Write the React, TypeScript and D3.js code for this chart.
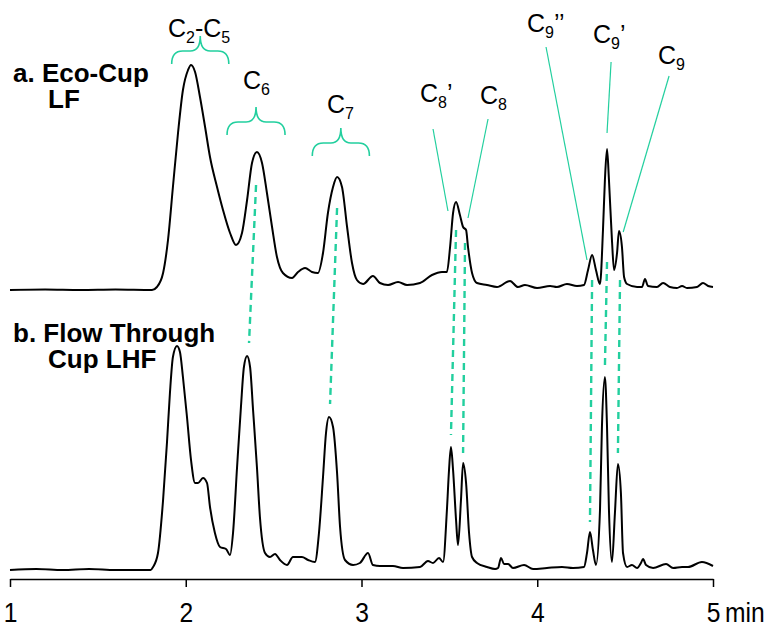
import React, { useRef, useEffect } from 'react';
import * as d3 from 'd3';

// retention time (min) and detector signal (arbitrary units)
const timesA = [1.0, 1.2, 1.4, 1.6, 1.808, 1.836, 1.871, 1.899, 1.927, 1.956, 1.984, 2.013, 2.03, 2.053, 2.081, 2.11, 2.138, 2.178, 2.212, 2.252, 2.286, 2.32, 2.349, 2.377, 2.405, 2.434, 2.462, 2.491, 2.519, 2.553, 2.605, 2.639, 2.679, 2.718, 2.752, 2.781, 2.809, 2.838, 2.861, 2.889, 2.918, 2.946, 2.974, 3.009, 3.065, 3.105, 3.151, 3.208, 3.259, 3.333, 3.401, 3.458, 3.486, 3.504, 3.521, 3.538, 3.56, 3.578, 3.595, 3.606, 3.629, 3.657, 3.714, 3.771, 3.845, 3.89, 3.93, 3.999, 4.073, 4.112, 4.169, 4.226, 4.266, 4.289, 4.312, 4.334, 4.357, 4.374, 4.385, 4.397, 4.408, 4.425, 4.437, 4.454, 4.465, 4.482, 4.494, 4.511, 4.568, 4.596, 4.613, 4.63, 4.681, 4.716, 4.755, 4.795, 4.824, 4.852, 4.909, 4.943, 4.972, 5.0];
const signalA = [0, 0.5, 0, 0.5, 0, 3, 17, 50, 103, 157, 200, 220, 225, 218, 193, 163, 133, 103, 80, 57, 45, 57, 90, 127, 138, 127, 97, 63, 33, 17, 12, 18, 22, 18, 17, 37, 77, 103, 113, 103, 63, 27, 10, 6, 14, 7, 5, 8, 5, 7, 15, 18, 18, 43, 77, 88, 75, 63, 60, 43, 17, 7, 5, 3, 9, 3, 5, 2, 4, 3, 6, 4, 5, 20, 35, 20, 6, 60, 110, 141, 110, 50, 20, 37, 59, 43, 13, 6, 3, 3, 11, 4, 3, 7, 3, 2, 4, 2, 3, 7, 4, 3];

const timesB = [1.0, 1.15, 1.3, 1.45, 1.6, 1.8, 1.814, 1.842, 1.871, 1.893, 1.91, 1.927, 1.95, 1.967, 1.984, 2.007, 2.03, 2.053, 2.07, 2.098, 2.121, 2.138, 2.166, 2.195, 2.229, 2.252, 2.269, 2.292, 2.314, 2.331, 2.349, 2.366, 2.383, 2.405, 2.422, 2.451, 2.479, 2.508, 2.536, 2.576, 2.61, 2.661, 2.696, 2.735, 2.758, 2.781, 2.798, 2.815, 2.838, 2.861, 2.878, 2.906, 2.952, 2.991, 3.037, 3.065, 3.105, 3.162, 3.179, 3.236, 3.333, 3.378, 3.407, 3.441, 3.464, 3.486, 3.498, 3.509, 3.521, 3.538, 3.549, 3.566, 3.578, 3.595, 3.612, 3.629, 3.657, 3.714, 3.76, 3.777, 3.794, 3.811, 3.834, 3.862, 3.925, 3.976, 4.055, 4.141, 4.203, 4.266, 4.283, 4.3, 4.317, 4.334, 4.357, 4.368, 4.385, 4.397, 4.408, 4.425, 4.442, 4.459, 4.476, 4.488, 4.511, 4.539, 4.568, 4.59, 4.602, 4.619, 4.659, 4.733, 4.773, 4.824, 4.858, 4.937, 5.0];
const signalB = [0, 1, 0, 1, 0, 0, 3, 17, 70, 127, 177, 213, 224, 218, 193, 153, 110, 87, 87, 92, 87, 63, 37, 23, 21, 15, 37, 103, 163, 203, 214, 203, 160, 103, 53, 17, 13, 16, 10, 5, 13, 13, 10, 8, 37, 93, 137, 153, 143, 97, 43, 10, 5, 7, 17, 5, 4, 4, 4, 2, 3, 9, 7, 12, 8, 60, 100, 123, 100, 50, 25, 70, 107, 87, 37, 13, 7, 3, 1, 2, 12, 6, 6, 2, 5, 1, 2, 3, 2, 3, 17, 38, 20, 5, 60, 143, 193, 143, 60, 8, 57, 106, 77, 17, 3, 5, 2, 7, 11, 5, 2, 6, 2, 3, 3, 8, 4];

const axisTicks = [1, 2, 3, 4, 5];

// peaks joined between the traces: time in a, time in b, dash start (a units), dash end (b units)
const matchTimeA = [2.4, 2.861, 3.538, 3.589, 4.312, 4.397, 4.471];
const matchTimeB = [2.36, 2.821, 3.509, 3.578, 4.3, 4.385, 4.459];
const matchTopA = [105, 82, 60, 47, 10, 28, 10];
const matchEndB = [227, 166, 135, 117, 48, 203, 117];

// bracketed groups
const groupNames = [['C', '2', '-C', '5'], ['C', '6'], ['C', '7']];
const groupStart = [1.92, 2.235, 2.72];
const groupEnd = [2.245, 2.565, 3.045];
const groupBase = [226, 155, 134];
const groupLabelT = [1.899, 2.326, 2.804];
const groupLabelI = [253, 201, 177];

// single peaks with leader lines
const peakNames = [['C', '8', '’'], ['C', '8'], ['C', '9', '’’'], ['C', '9', '’'], ['C', '9']];
const peakLabelT = [3.333, 3.674, 3.942, 4.317, 4.687];
const peakLabelI = [188, 186, 258, 247, 226];
const leaderFromT = [3.407, 3.72, 4.05, 4.42, 4.75];
const leaderFromI = [161, 171, 243, 228, 214];
const leaderToT = [3.492, 3.606, 4.283, 4.397, 4.489];
const leaderToI = [79, 72, 30, 157, 58];

// trace titles, two lines each
const titleLines = [['a. Eco-Cup', 'LF'], ['b. Flow Through', 'Cup LHF']];

const TEAL = '#22cf9e';
const FONT = '"Liberation Sans", Arial, sans-serif';

const App = () => {
  const svgRef = useRef(null);

  useEffect(() => {
    const svg = d3.select(svgRef.current);
    svg.selectAll('*').remove();

    const x = d3.scaleLinear().domain([1, 5]).range([10, 713]);
    const yA = d3.scaleLinear().domain([0, 225]).range([290, 65]);
    const yB = d3.scaleLinear().domain([0, 225]).range([570, 345]);

    const line = (ys) => d3.line().x(d => x(d[0])).y(d => ys(d[1])).curve(d3.curveMonotoneX);
    const dataA = timesA.map((t, i) => [t, signalA[i]]);
    const dataB = timesB.map((t, i) => [t, signalB[i]]);

    // dashed connectors
    matchTimeA.forEach((t, i) => {
      svg.append('line')
        .attr('x1', x(t)).attr('y1', yA(matchTopA[i]))
        .attr('x2', x(matchTimeB[i])).attr('y2', yB(matchEndB[i]))
        .attr('stroke', TEAL).attr('stroke-width', 2.4)
        .attr('stroke-dasharray', '7,5');
    });

    svg.append('path').datum(dataA).attr('d', line(yA))
      .attr('fill', 'none').attr('stroke', '#000').attr('stroke-width', 2).attr('stroke-linejoin', 'round');
    svg.append('path').datum(dataB).attr('d', line(yB))
      .attr('fill', 'none').attr('stroke', '#000').attr('stroke-width', 2).attr('stroke-linejoin', 'round');

    // axis
    const axis = svg.append('g').attr('transform', 'translate(0,579)')
      .call(d3.axisBottom(x).tickValues(axisTicks).tickSize(8).tickSizeOuter(0).tickFormat(d3.format('d')));
    axis.select('.domain').attr('stroke', '#000').attr('stroke-width', 1.5);
    axis.selectAll('.tick line').attr('stroke', '#000').attr('stroke-width', 1.5);
    axis.selectAll('.tick text')
      .attr('y', 43).attr('dy', 0)
      .attr('font-size', 28).attr('font-family', FONT)
      .attr('fill', '#000')
      .attr('transform', 'scale(0.88,1)');
    svg.append('text')
      .attr('transform', `translate(${x(5) + 12},622) scale(0.88,1)`)
      .attr('font-size', 28).attr('font-family', FONT).text('min');

    // label helper with subscripts
    const drawName = (px, py, parts) => {
      const txt = svg.append('text').attr('x', px).attr('y', py)
        .attr('font-family', FONT).attr('font-size', 25).attr('fill', '#000');
      let shifted = false;
      parts.forEach((p, k) => {
        const isSub = k % 2 === 1;
        const ts = txt.append('tspan').text(p);
        if (isSub) {
          ts.attr('font-size', 16).attr('dy', 6);
          shifted = true;
        } else if (shifted) {
          ts.attr('dy', -6);
          shifted = false;
        }
      });
    };

    // braces
    groupNames.forEach((parts, i) => {
      const L = x(groupStart[i]);
      const R = x(groupEnd[i]);
      const c = (L + R) / 2;
      const yb = yA(groupBase[i]);
      const yh = yb - 13;
      const yt = yb - 28;
      const p = `M${L},${yb} Q${L},${yh} ${L + 11},${yh} L${c - 10},${yh} Q${c},${yh} ${c},${yt} Q${c},${yh} ${c + 10},${yh} L${R - 11},${yh} Q${R},${yh} ${R},${yb}`;
      svg.append('path').attr('d', p).attr('fill', 'none').attr('stroke', TEAL).attr('stroke-width', 1.6);
      drawName(x(groupLabelT[i]), yA(groupLabelI[i]), parts);
    });

    // leader lines
    peakNames.forEach((parts, i) => {
      svg.append('line')
        .attr('x1', x(leaderFromT[i])).attr('y1', yA(leaderFromI[i]))
        .attr('x2', x(leaderToT[i])).attr('y2', yA(leaderToI[i]))
        .attr('stroke', TEAL).attr('stroke-width', 1.2);
      drawName(x(peakLabelT[i]), yA(peakLabelI[i]), parts);
    });

    // trace titles
    const titleY = [82, 342];
    titleLines.forEach((lines, i) => {
      const t = svg.append('text').attr('y', titleY[i])
        .attr('font-family', FONT).attr('font-size', 26).attr('font-weight', 'bold');
      t.append('tspan').attr('x', 13).text(lines[0]);
      t.append('tspan').attr('x', 48).attr('dy', 26).text(lines[1]);
    });
  }, []);

  return (
    <svg ref={svgRef} width={772} height={628}
      style={{ position: 'absolute', left: 0, top: 0, background: '#fff' }} />
  );
};

export default App;
